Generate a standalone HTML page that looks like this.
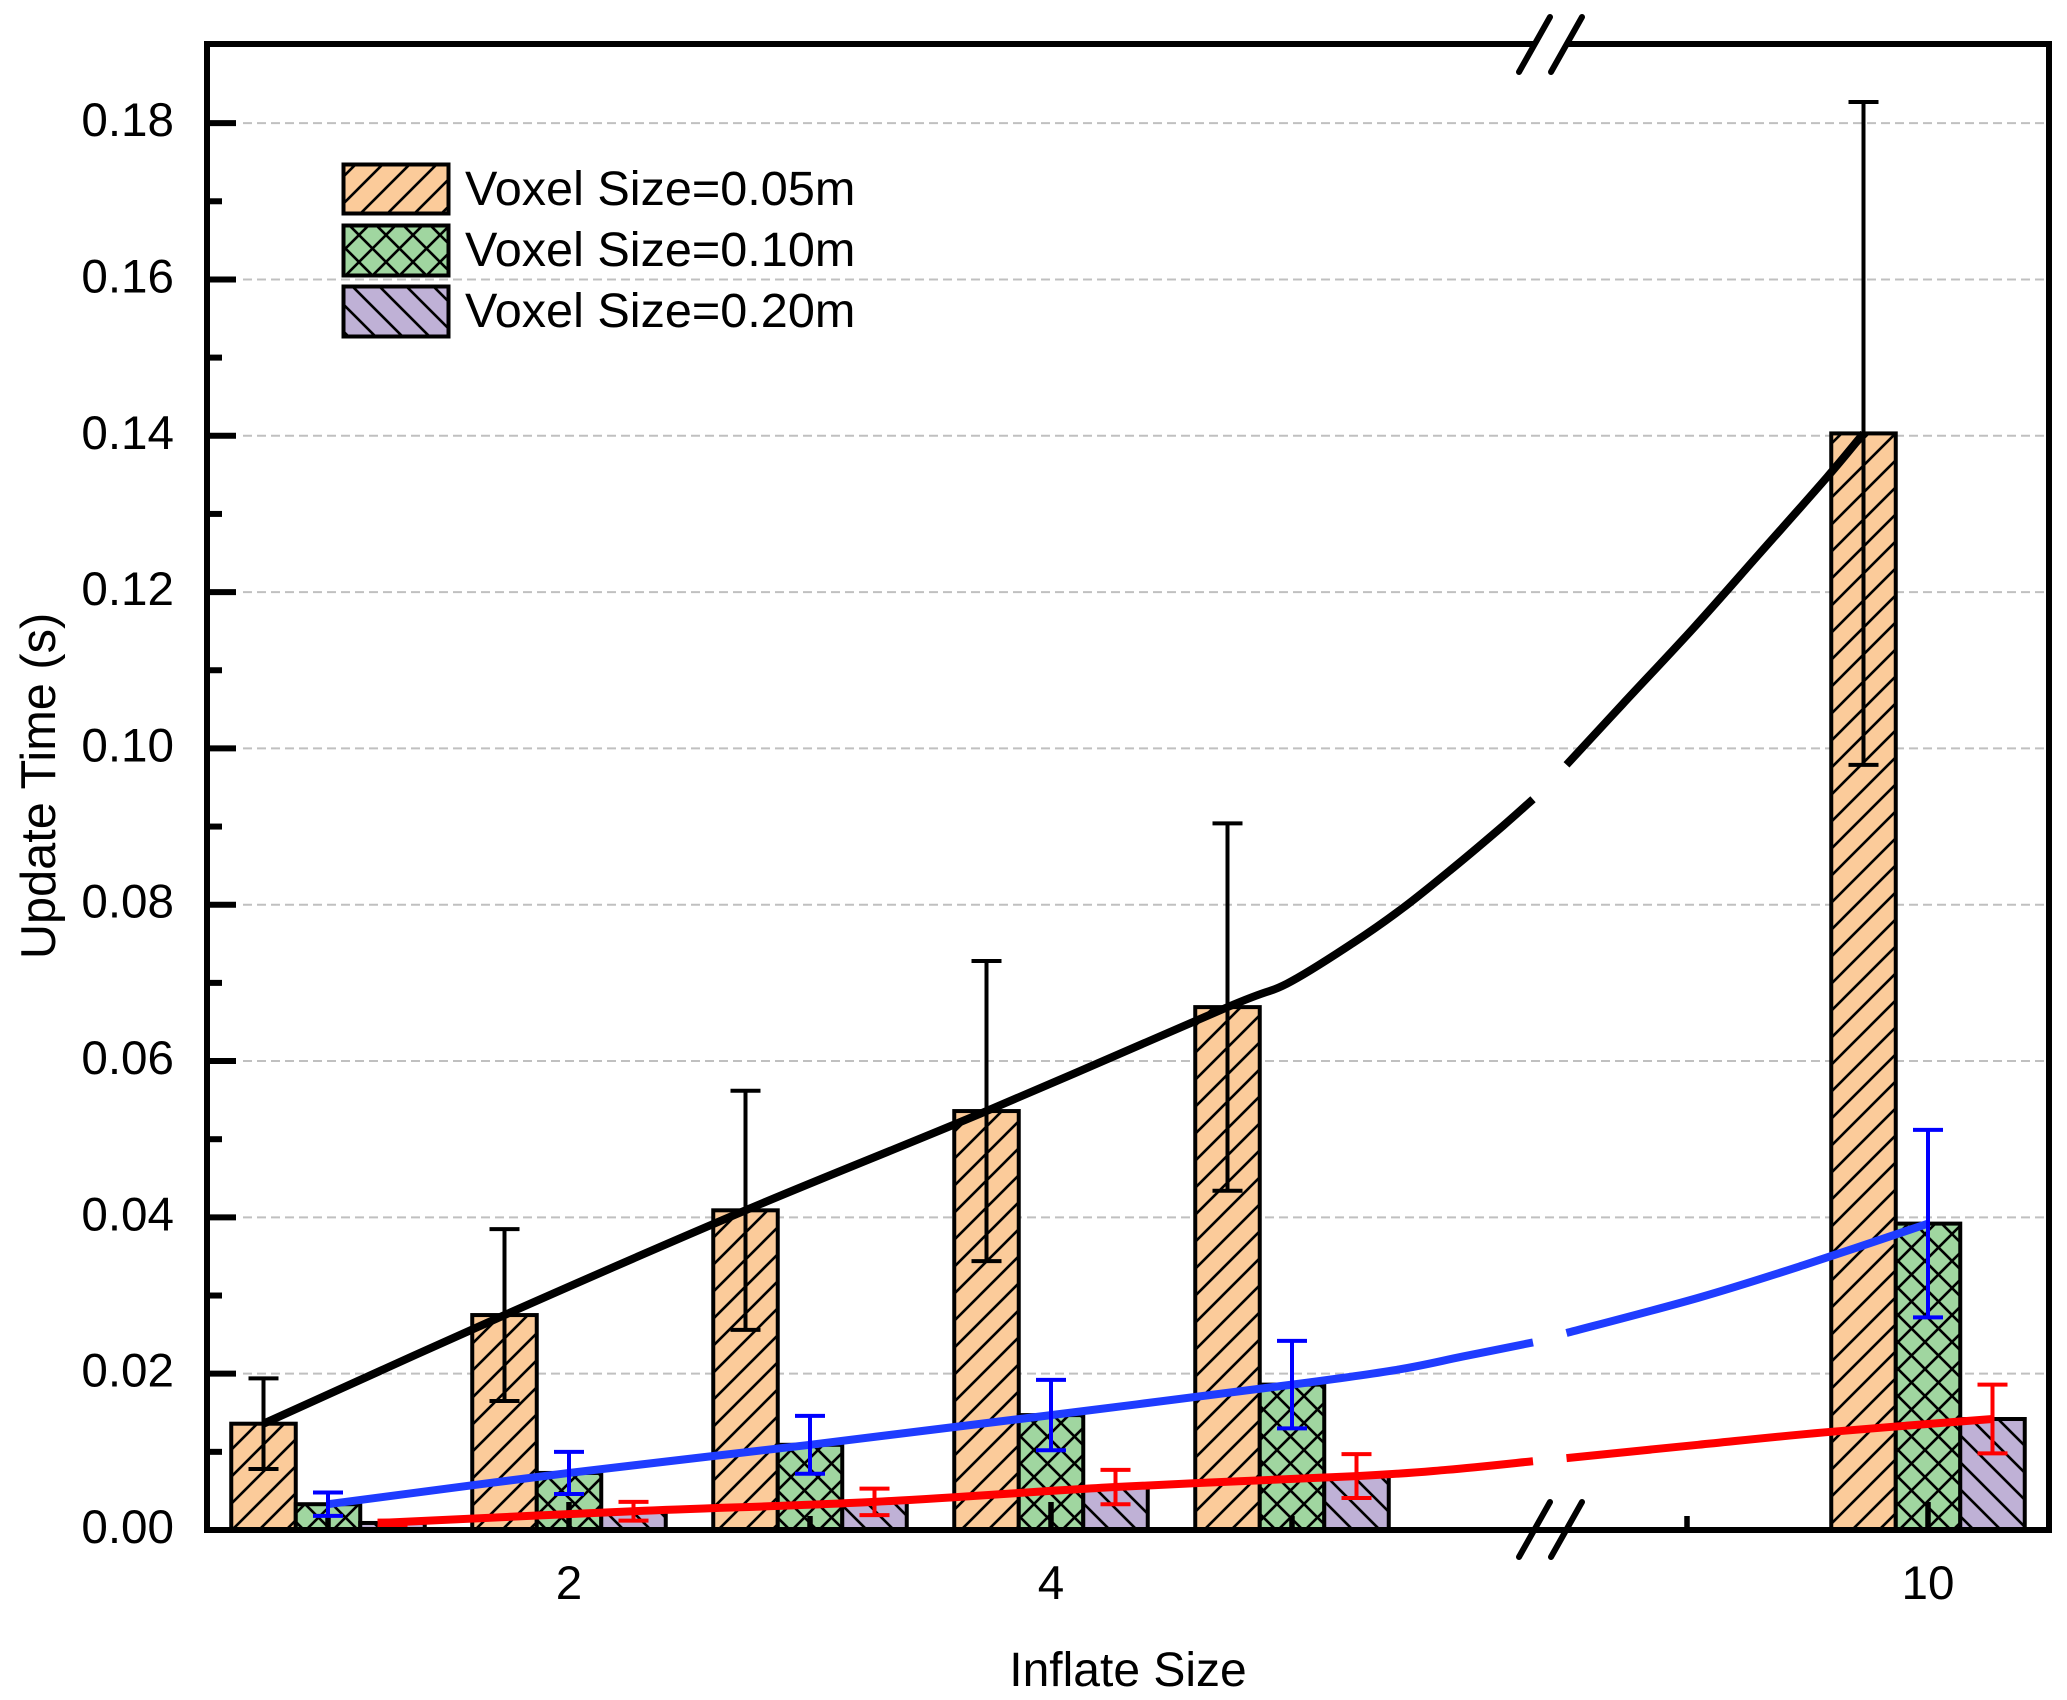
<!DOCTYPE html>
<html lang="en">
<head>
<meta charset="utf-8">
<title>Update Time vs Inflate Size</title>
<style>
html,body{margin:0;padding:0;background:#fff;width:2067px;height:1700px;overflow:hidden}
svg{display:block}
text{font-family:"Liberation Sans",Arial,sans-serif;fill:#000}
</style>
</head>
<body>
<svg id="chart" xmlns="http://www.w3.org/2000/svg" width="2067" height="1700" viewBox="0 0 2067 1700">
  <defs>
    <pattern id="hatch-orange" patternUnits="userSpaceOnUse" width="27" height="27" patternTransform="translate(7,0)">
      <rect width="27" height="27" fill="#FBCB9A"/>
      <path d="M-5,5L5,-5M0,27L27,0M22,32L32,22" stroke="#000" stroke-width="2.6" fill="none"/>
    </pattern>
    <pattern id="hatch-green" patternUnits="userSpaceOnUse" width="27" height="27" patternTransform="translate(8,-8)">
      <rect width="27" height="27" fill="#A0D6A0"/>
      <path d="M-5,5L5,-5M0,27L27,0M22,32L32,22M-5,22L5,32M0,0L27,27M22,-5L32,5" stroke="#000" stroke-width="2.6" fill="none"/>
    </pattern>
    <pattern id="hatch-purple" patternUnits="userSpaceOnUse" width="27" height="27" patternTransform="translate(12,0)">
      <rect width="27" height="27" fill="#BFB1D6"/>
      <path d="M-5,22L5,32M0,0L27,27M22,-5L32,5" stroke="#000" stroke-width="2.6" fill="none"/>
    </pattern>
  </defs>
  <g id="grid-layer"></g>
  <g id="bar-layer"></g>
  <g id="tick-layer"></g>
  <g id="line-layer"></g>
  <g id="error-layer"></g>
  <g stroke="#000" stroke-width="6" fill="none">
    <path d="M207,41V1533"/>
    <path d="M204,1530H2052"/>
    <path d="M2049,41V1533"/>
    <path d="M204,44H1534"/>
    <path d="M1566,44H2052"/>
  </g>
  <g stroke="#000" stroke-width="6" stroke-linecap="round" fill="none">
    <path d="M1519,1557L1550,1502"/>
    <path d="M1551,1557L1582,1502"/>
    <path d="M1519,72L1550,17"/>
    <path d="M1551,72L1582,17"/>
  </g>
  <g id="label-layer" font-size="47.6"></g>
  <text x="1128" y="1686" font-size="48" text-anchor="middle">Inflate Size</text>
  <text transform="translate(55,786) rotate(-90)" font-size="48.7" text-anchor="middle">Update Time (s)</text>
  <g>
    <g>
      <rect x="343.5" y="164.5" width="105" height="49" fill="url(#hatch-orange)" stroke="#000" stroke-width="4"/>
      <text x="465" y="205" font-size="48.6">Voxel Size=0.05m</text>
    </g>
    <g>
      <rect x="343.5" y="225.5" width="105" height="50" fill="url(#hatch-green)" stroke="#000" stroke-width="4"/>
      <text x="465" y="266" font-size="48.6">Voxel Size=0.10m</text>
    </g>
    <g>
      <rect x="343.5" y="286.5" width="105" height="50" fill="url(#hatch-purple)" stroke="#000" stroke-width="4"/>
      <text x="465" y="327" font-size="48.6">Voxel Size=0.20m</text>
    </g>
  </g>
</svg>
<script>
// ---- chart data ----
const categories = [1, 2, 3, 4, 5, 10];
const meansFine = [0.0136, 0.0275, 0.0409, 0.0536, 0.0669, 0.1403];
const errsFine = [0.0058, 0.0110, 0.0153, 0.0192, 0.0235, 0.0424];
const meansMid = [0.0033, 0.0073, 0.0109, 0.0147, 0.0186, 0.0392];
const errsMid = [0.0015, 0.0027, 0.0037, 0.0045, 0.0056, 0.0120];
const meansCoarse = [0.0009, 0.0024, 0.0036, 0.0055, 0.0069, 0.0142];
const errsCoarse = [0.0003, 0.0012, 0.0017, 0.0022, 0.0028, 0.0044];
// Curve readings between category 5 and 10 (axis position, value)
const bridgeFineX = [4.979, 5.253, 5.461, 5.668, 5.876, 6.0, 8.5, 8.734, 9.027, 9.303, 9.581];
const bridgeFineY = [0.0699, 0.0751, 0.0796, 0.0847, 0.0901, 0.0935, 0.0979, 0.1057, 0.1154, 0.1250, 0.1347];
const bridgeMidX = [5.436, 5.71, 6.0, 8.5, 9.046, 9.485];
const bridgeMidY = [0.0205, 0.0222, 0.0240, 0.0252, 0.0297, 0.0339];
const bridgeCoarseX = [5.643, 6.0, 8.5, 9.046, 9.573];
const bridgeCoarseY = [0.0077, 0.0088, 0.0092, 0.0109, 0.0125];
const yTickValues = [0, 0.02, 0.04, 0.06, 0.08, 0.10, 0.12, 0.14, 0.16, 0.18];
const yTickLabels = ['0.00', '0.02', '0.04', '0.06', '0.08', '0.10', '0.12', '0.14', '0.16', '0.18'];
const yMinorValues = [0.01, 0.03, 0.05, 0.07, 0.09, 0.11, 0.13, 0.15, 0.17];
const xTickValues = [2, 4, 10];
const xTickLabels = ['2', '4', '10'];
const xMinorValues = [1, 3, 5, 9];

// ---- axes ----
function yScale(v) { return 1530 - v * 7816; }
function xScale(v) { return v <= 6 ? 328 + (v - 1) * 241 : 1928 + (v - 10) * 241; }
const BAR_W = 64.5;
const OFF = BAR_W / 241;

const NS = 'http://www.w3.org/2000/svg';
function mk(tag, attrs, parent) {
  const el = document.createElementNS(NS, tag);
  for (const k in attrs) el.setAttribute(k, attrs[k]);
  parent.appendChild(el);
  return el;
}
const gridL = document.getElementById('grid-layer');
const barL = document.getElementById('bar-layer');
const tickL = document.getElementById('tick-layer');
const lineL = document.getElementById('line-layer');
const errL = document.getElementById('error-layer');
const labelL = document.getElementById('label-layer');

// gridlines + y ticks
yTickValues.forEach(function (v, i) {
  const y = yScale(v);
  if (v > 0) {
    const g = mk('line', {x1: 243, x2: 2046, y1: y, y2: y, stroke: '#C0C0C0', 'stroke-width': 2, 'stroke-dasharray': '9 5'}, gridL);
    
    
  }
  const t = mk('line', {x1: 207, x2: 236, y1: y, y2: y, stroke: '#000', 'stroke-width': 6}, tickL);
  
  
  const l = mk('text', {x: 174, y: y + 13, 'text-anchor': 'end'}, labelL);
  
  
  l.textContent = yTickLabels[i];
});
yMinorValues.forEach(function (v) {
  const y = yScale(v);
  const t = mk('line', {x1: 207, x2: 222, y1: y, y2: y, stroke: '#000', 'stroke-width': 6}, tickL);
  
  
});

// bars
const barSeries = [
  {key: 'voxel-0-05', fill: 'url(#hatch-orange)', means: meansFine, offset: -1},
  {key: 'voxel-0-10', fill: 'url(#hatch-green)', means: meansMid, offset: 0},
  {key: 'voxel-0-20', fill: 'url(#hatch-purple)', means: meansCoarse, offset: 1}
];
barSeries.forEach(function (s) {
  s.means.forEach(function (m, i) {
    const cx = xScale(categories[i]) + s.offset * BAR_W;
    const y = yScale(m);
    const r = mk('rect', {x: cx - BAR_W / 2, y: y, width: BAR_W, height: Math.max(0, yScale(0) - y), fill: s.fill, stroke: '#000', 'stroke-width': 4}, barL);
    
    
  });
});

// x ticks
xTickValues.forEach(function (v, i) {
  const x = xScale(v);
  const t = mk('line', {x1: x, x2: x, y1: 1502, y2: 1530, stroke: '#000', 'stroke-width': 5.5}, tickL);
  
  
  const l = mk('text', {x: x, y: 1599, 'text-anchor': 'middle'}, labelL);
  
  
  l.textContent = xTickLabels[i];
});
xMinorValues.forEach(function (v) {
  const x = xScale(v);
  const t = mk('line', {x1: x, x2: x, y1: 1516, y2: 1530, stroke: '#000', 'stroke-width': 5.5}, tickL);
  
  
});

// trend lines
function smooth(pts) {
  let d = 'M' + pts[0][0].toFixed(2) + ',' + pts[0][1].toFixed(2);
  for (let i = 0; i < pts.length - 1; i++) {
    const p0 = pts[Math.max(0, i - 1)], p1 = pts[i], p2 = pts[i + 1], p3 = pts[Math.min(pts.length - 1, i + 2)];
    const c1x = p1[0] + (p2[0] - p0[0]) / 6, c1y = p1[1] + (p2[1] - p0[1]) / 6;
    const c2x = p2[0] - (p3[0] - p1[0]) / 6, c2y = p2[1] - (p3[1] - p1[1]) / 6;
    d += 'C' + c1x.toFixed(2) + ',' + c1y.toFixed(2) + ' ' + c2x.toFixed(2) + ',' + c2y.toFixed(2) + ' ' + p2[0].toFixed(2) + ',' + p2[1].toFixed(2);
  }
  return d;
}
function drawTrend(name, color, means, unitOffset, firstShift, bridgeX, bridgeY) {
  const pos = categories.map(function (c, i) { return c + unitOffset + (i === 0 ? firstShift : 0); });
  const all = [];
  for (let i = 0; i < 5; i++) all.push([pos[i], means[i]]);
  bridgeX.forEach(function (x, i) { all.push([x, bridgeY[i]]); });
  all.push([pos[5], means[5]]);
  const left = all.filter(function (p) { return p[0] <= 6; }).map(function (p) { return [xScale(p[0]), yScale(p[1])]; });
  const right = all.filter(function (p) { return p[0] >= 8.5; }).map(function (p) { return [xScale(p[0]), yScale(p[1])]; });
  [left, right].forEach(function (pts, i) {
    const p = mk('path', {d: smooth(pts), fill: 'none', stroke: color, 'stroke-width': 8}, lineL);
    
    
  });
}
drawTrend('trend-line-0-05m', '#000000', meansFine, -OFF, 0, bridgeFineX, bridgeFineY);
drawTrend('trend-line-0-10m', '#1F3CFF', meansMid, 0, 0, bridgeMidX, bridgeMidY);
drawTrend('trend-line-0-20m', '#FF0000', meansCoarse, OFF, -0.06, bridgeCoarseX, bridgeCoarseY);

// error bars
function drawErrors(name, color, means, errs, offset) {
  means.forEach(function (m, i) {
    const x = xScale(categories[i]) + offset * BAR_W;
    const hi = yScale(m + errs[i]), lo = yScale(m - errs[i]);
    const s = mk('path', {d: 'M' + x + ',' + hi + 'V' + lo + 'M' + (x - 15) + ',' + hi + 'H' + (x + 15) + 'M' + (x - 15) + ',' + lo + 'H' + (x + 15), fill: 'none', stroke: color, 'stroke-width': 4}, errL);
    
    
  });
}
drawErrors('0-05m', '#000000', meansFine, errsFine, -1);
drawErrors('0-10m', '#0000FF', meansMid, errsMid, 0);
drawErrors('0-20m', '#FF0000', meansCoarse, errsCoarse, 1);
</script>
</body>
</html>
